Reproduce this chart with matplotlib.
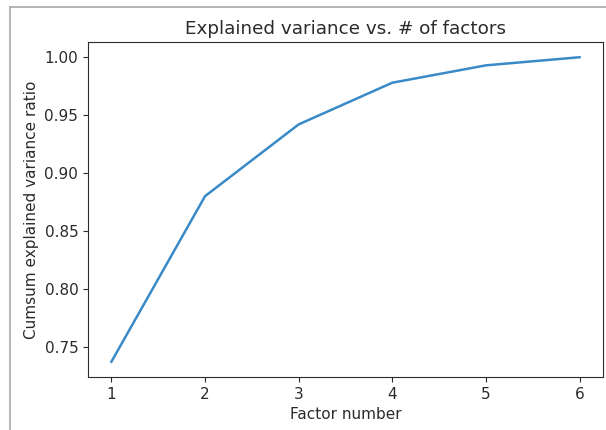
import matplotlib

matplotlib.use("Agg")

import matplotlib.pyplot as plt
from matplotlib.lines import Line2D

# cumulative explained variance per number of factors
factors = [1, 2, 3, 4, 5, 6]
cumsum_ratio = [0.737, 0.880, 0.942, 0.978, 0.993, 1.000]

plt.rcParams.update({
    "font.size": 11,
    "text.color": "#2b2b2b",
    "axes.labelcolor": "#2b2b2b",
    "xtick.color": "#2b2b2b",
    "ytick.color": "#2b2b2b",
    "axes.edgecolor": "#2b2b2b",
})

fig = plt.figure(figsize=(6.06, 4.30), dpi=100)
ax = fig.add_axes([0.1452, 0.1233, 0.8498, 0.779])

ax.plot(factors, cumsum_ratio, color="#3a8ac8", lw=1.8)
ax.set_title("Explained variance vs. # of factors", fontsize=13.2)
ax.set_xlabel("Factor number")
ax.set_ylabel("Cumsum explained variance ratio")
ax.set_xticks(factors)
ax.set_yticks([0.75, 0.80, 0.85, 0.90, 0.95, 1.00])
ax.set_yticklabels(["0.75", "0.80", "0.85", "0.90", "0.95", "1.00"])

# thin grey frame around the output cell
fig.add_artist(Line2D([10 / 606, 1.0], [1 - 7 / 430, 1 - 7 / 430],
                      color="#a8a8a8", lw=1.2, transform=fig.transFigure))
fig.add_artist(Line2D([10 / 606, 10 / 606], [0.0, 1 - 7 / 430],
                      color="#a8a8a8", lw=1.2, transform=fig.transFigure))

fig.savefig("out.png", dpi=100)
